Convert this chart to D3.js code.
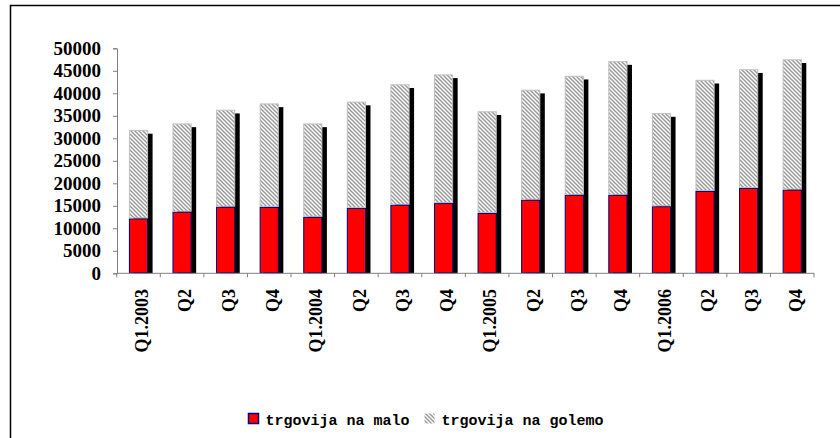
<!DOCTYPE html>
<html>
<head>
<meta charset="utf-8">
<script src="https://cdn.jsdelivr.net/npm/d3@7"></script>
<style>
  html, body { margin: 0; background: #fff; overflow: hidden; }
  svg { display: block; overflow: hidden; }
</style>
</head>
<body>
<div id="chart"></div>
<script>
// ---------------------------- DATA ----------------------------//
const quarters = ["Q1.2003", "Q2", "Q3", "Q4", "Q1.2004", "Q2", "Q3", "Q4",
                  "Q1.2005", "Q2", "Q3", "Q4", "Q1.2006", "Q2", "Q3", "Q4"];
const retail    = [12200, 13700, 14800, 14750, 12550, 14500, 15250, 15600,
                   13400, 16350, 17450, 17450, 14900, 18300, 18950, 18600];
const wholesale = [19650, 19600, 21550, 23000, 20750, 23650, 26750, 28600,
                   22600, 24450, 26450, 29700, 20700, 24700, 26400, 28950];
const yTicks = [0, 5000, 10000, 15000, 20000, 25000, 30000, 35000, 40000, 45000, 50000];
const seriesNames = ["trgovija na malo", "trgovija na golemo"];

// ---------------------------- SVG -----------------------------//
const width = 840;
const height = 438;

const svg = d3.select("#chart").append("svg")
  .attr("width", width)
  .attr("height", height);

// hatch pattern for wholesale
const defs = svg.append("defs");
const pat = defs.append("pattern")
  .attr("id", "hatch")
  .attr("patternUnits", "userSpaceOnUse")
  .attr("width", 4)
  .attr("height", 4);
pat.append("rect").attr("width", 4).attr("height", 4).attr("fill", "#ffffff");
pat.append("path")
  .attr("d", "M-1,-1 L5,5 M-1,3 L1,5 M3,-1 L5,1")
  .attr("stroke", "#9a9a9a")
  .attr("stroke-width", 1.5);

// outer frame: only the top and left edges are inside the picture
svg.append("path")
  .attr("d", "M10.5," + height + " V5.5 H" + width)
  .attr("fill", "none")
  .attr("stroke", "#000")
  .attr("stroke-width", 1.5);

// --------------------------- SCALES ---------------------------//
const x = d3.scaleBand()
  .domain(d3.range(quarters.length))
  .range([116.7, 814])
  .paddingInner(0.56)
  .paddingOuter(0.28);

const y = d3.scaleLinear()
  .domain([0, 50000])
  .range([273.3, 48.3]);

const step = x.step();

// ---------------------------- BARS ----------------------------//
const rows = quarters.map((q, i) => ({ i: i, retail: retail[i], wholesale: wholesale[i] }));
const stacked = d3.stack().keys(["retail", "wholesale"])(rows);

const shadowDx = 4.5;
const shadowDy = 3.7;

// shadows first
svg.append("g").selectAll("rect")
  .data(rows)
  .enter().append("rect")
  .attr("x", d => x(d.i) + shadowDx)
  .attr("y", d => y(d.retail + d.wholesale) + shadowDy)
  .attr("width", x.bandwidth())
  .attr("height", d => y(0) - y(d.retail + d.wholesale) - shadowDy)
  .attr("fill", "#000");

const fills = ["#ff0000", "url(#hatch)"];
const strokes = ["#000080", "#c0c0c0"];

stacked.forEach((s, k) => {
  svg.append("g").selectAll("rect")
    .data(s)
    .enter().append("rect")
    .attr("x", d => x(d.data.i) + 0.5)
    .attr("y", d => y(d[1]) + 0.5)
    .attr("width", x.bandwidth() - 1)
    .attr("height", d => y(d[0]) - y(d[1]) - 1)
    .attr("fill", fills[k])
    .attr("stroke", strokes[k])
    .attr("stroke-width", 1);
});

// ---------------------------- AXES ----------------------------//
const yAxis = svg.append("g")
  .attr("transform", "translate(117,0)")
  .call(d3.axisLeft(y).tickValues(yTicks).tickSize(4).tickPadding(12).tickFormat(d3.format("d")));
yAxis.select(".domain").attr("stroke", "#808080");
yAxis.selectAll(".tick line").attr("stroke", "#808080");
yAxis.selectAll("text")
  .attr("fill", "#000")
  .style("font-family", "'Liberation Serif', 'Times New Roman', serif")
  .style("font-weight", "bold")
  .style("font-size", "19px");

// x axis line
svg.append("line")
  .attr("x1", 116.7).attr("x2", 814)
  .attr("y1", y(0)).attr("y2", y(0))
  .attr("stroke", "#808080");

// ticks at category boundaries
const bounds = d3.range(quarters.length + 1).map(i => 116.7 + i * step);
svg.append("g").selectAll("line")
  .data(bounds)
  .enter().append("line")
  .attr("x1", d => d).attr("x2", d => d)
  .attr("y1", y(0)).attr("y2", y(0) + 4)
  .attr("stroke", "#808080");

// x labels, rotated
svg.append("g").selectAll("text")
  .data(quarters)
  .enter().append("text")
  .attr("transform", (d, i) => "translate(" + (x(i) + x.bandwidth() / 2 + 3) + "," + 289 + ") rotate(-90)")
  .attr("text-anchor", "end")
  .attr("dy", "0.35em")
  .style("font-family", "'Liberation Serif', 'Times New Roman', serif")
  .style("font-weight", "bold")
  .style("font-size", "18px")
  .text(d => d);

// --------------------------- LEGEND ---------------------------//
const legendX = [248.5, 424.5];
const legend = svg.append("g");
seriesNames.forEach((n, k) => {
  legend.append("rect")
    .attr("x", legendX[k])
    .attr("y", 413.5)
    .attr("width", 10)
    .attr("height", 10)
    .attr("fill", fills[k])
    .attr("stroke", k === 0 ? "#000080" : "none")
    .attr("stroke-width", 1.5);
  legend.append("text")
    .attr("x", legendX[k] + 17)
    .attr("y", 425)
    .style("font-family", "'Liberation Mono', monospace")
    .style("font-weight", "bold")
    .style("font-size", "15px")
    .text(n);
});
</script>
</body>
</html>
